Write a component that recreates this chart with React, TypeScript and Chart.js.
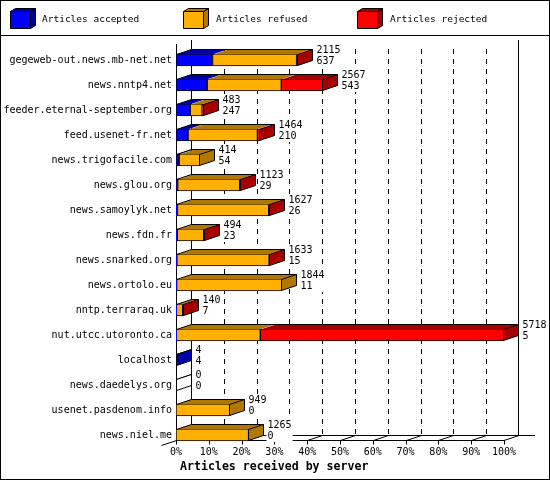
import { useEffect, useRef } from 'react';
import { Chart, registerables } from 'chart.js';

Chart.register(...registerables);

const servers = [
  'gegeweb-out.news.mb-net.net',
  'news.nntp4.net',
  'feeder.eternal-september.org',
  'feed.usenet-fr.net',
  'news.trigofacile.com',
  'news.glou.org',
  'news.samoylyk.net',
  'news.fdn.fr',
  'news.snarked.org',
  'news.ortolo.eu',
  'nntp.terraraq.uk',
  'nut.utcc.utoronto.ca',
  'localhost',
  'news.daedelys.org',
  'usenet.pasdenom.info',
  'news.niel.me',
];
const accepted = [637, 543, 247, 210, 54, 29, 26, 23, 15, 11, 7, 5, 4, 0, 0, 0];
const refused = [1465, 1293, 208, 1209, 360, 1082, 1589, 460, 1608, 1833, 109, 1464, 0, 0, 949, 1265];
const rejected = [13, 731, 28, 45, 0, 12, 12, 11, 10, 0, 24, 4249, 0, 0, 0, 0];
const percentTicks = [0, 10, 20, 30, 40, 50, 60, 70, 80, 90, 100];
const legendLabels = ['Articles accepted', 'Articles refused', 'Articles rejected'];

const FRONT = ['#0000ff', '#ffb000', '#ff0000'];
const DARK = ['#0000a8', '#b07800', '#a80000'];
const DX = 15;
const DY = -5;
const MONO = '"DejaVu Sans Mono", monospace';

const totals = servers.map((_, i) => accepted[i] + refused[i] + rejected[i]);
const maxTotal = Math.max(...totals);
const toPct = (arr: number[]) => arr.map((v) => (v / maxTotal) * 100);

const line = (ctx: CanvasRenderingContext2D, x1: number, y1: number, x2: number, y2: number) => {
  ctx.beginPath();
  ctx.moveTo(x1, y1);
  ctx.lineTo(x2, y2);
  ctx.stroke();
};

const poly = (ctx: CanvasRenderingContext2D, pts: number[][], fill: string | null) => {
  ctx.beginPath();
  ctx.moveTo(pts[0][0], pts[0][1]);
  for (let i = 1; i < pts.length; i++) ctx.lineTo(pts[i][0], pts[i][1]);
  ctx.closePath();
  if (fill) {
    ctx.fillStyle = fill;
    ctx.fill();
  }
  ctx.stroke();
};

const depthPlugin = {
  id: 'depth3d',
  beforeDatasetsDraw(chart: any) {
    const { ctx, chartArea, scales } = chart;
    const xs = scales.x;
    const ys = scales.y;
    const last = chart.getDatasetMeta(0).data[servers.length - 1];
    const front = Math.round(ys.getPixelForValue(servers.length - 1) + last.height / 2) - 0.5;
    const back = front + DY;
    const left = Math.round(chartArea.left) + 0.5;
    const right = Math.round(xs.getPixelForValue(100));
    ctx.save();
    ctx.strokeStyle = '#000';
    ctx.lineWidth = 1;
    // back wall & floor
    line(ctx, left + DX, 40, left + DX, back);
    line(ctx, right + DX - 0.5, 40, right + DX - 0.5, back);
    line(ctx, left + DX, back, 535, back);
    line(ctx, left, 44, left, front);
    line(ctx, left - DX, front - DY, left + DX, back);
    line(ctx, left, front, right, front);
    line(ctx, right, front, right + DX, back);
    ctx.setLineDash([5, 5]);
    percentTicks.slice(1, -1).forEach((t) => {
      const px = Math.round(xs.getPixelForValue(t)) + 0.5;
      line(ctx, px + DX, 49, px + DX, back);
    });
    ctx.setLineDash([]);
    percentTicks.forEach((t) => {
      const px = Math.round(xs.getPixelForValue(t)) + 0.5;
      if (t > 0 && t < 100) line(ctx, px, front, px + DX, back);
      line(ctx, px, front, px, front + 4);
    });
    ctx.fillStyle = '#000';
    ctx.font = `10px ${MONO}`;
    ctx.textAlign = 'center';
    ctx.textBaseline = 'middle';
    percentTicks.forEach((t) => {
      ctx.fillText(`${t}%`, xs.getPixelForValue(t), front + 11.5);
    });
    ctx.font = `bold 11.6px ${MONO}`;
    ctx.textAlign = 'left';
    ctx.fillText('Articles received by server', 180, 467);
    ctx.restore();
  },
  afterDatasetsDraw(chart: any) {
    const { ctx } = chart;
    const metas = [0, 1, 2].map((d) => chart.getDatasetMeta(d));
    const values = [accepted, refused, rejected];
    ctx.save();
    ctx.strokeStyle = '#000';
    ctx.lineWidth = 1;
    servers.forEach((_, i) => {
      const els = metas.map((m) => m.data[i]);
      const T = Math.round(els[0].y - els[0].height / 2) + 0.5;
      const B = Math.round(els[0].y + els[0].height / 2) - 0.5;
      const L = Math.round(els[0].base) + 0.5;
      let R = L;
      let sideColor = '#ffffff';
      els.forEach((el: any, k: number) => {
        if (values[k][i] <= 0) return;
        const s = Math.round(el.base) + 0.5;
        const e = Math.max(s, Math.round(el.x) - 0.5);
        ctx.fillStyle = DARK[k];
        ctx.beginPath();
        ctx.moveTo(s, T);
        ctx.lineTo(e, T);
        ctx.lineTo(e + DX, T + DY);
        ctx.lineTo(s + DX, T + DY);
        ctx.closePath();
        ctx.fill();
        if (e - s < 1) {
          ctx.fillStyle = FRONT[k];
          ctx.fillRect(s - 0.5, T, 1, B - T);
        }
        R = e;
        sideColor = DARK[k];
      });
      // outline of top face
      ctx.beginPath();
      ctx.moveTo(L, T);
      ctx.lineTo(L + DX, T + DY);
      ctx.lineTo(R + DX, T + DY);
      ctx.stroke();
      poly(ctx, [[R, T], [R + DX, T + DY], [R + DX, B + DY], [R, B]], sideColor);
      // value labels on an opaque white box
      ctx.font = `10px ${MONO}`;
      const cy = (T + B) / 2;
      const tx = R + DX + 4;
      const a = String(totals[i]);
      const b = String(accepted[i]);
      const w = Math.max(ctx.measureText(a).width, ctx.measureText(b).width);
      ctx.fillStyle = '#fff';
      ctx.fillRect(tx - 1, cy - 16, w + 2, 23);
      ctx.fillStyle = '#000';
      ctx.textAlign = 'left';
      ctx.textBaseline = 'middle';
      ctx.fillText(a, tx, cy - 10);
      ctx.fillText(b, tx, cy + 1);
    });
    ctx.restore();
  },
  afterDraw(chart: any) {
    const { ctx, width, height } = chart;
    ctx.save();
    ctx.strokeStyle = '#000';
    ctx.lineWidth = 1;
    ctx.strokeRect(0.5, 0.5, width - 1, height - 1);
    line(ctx, 0, 35.5, width, 35.5);
    const boxX = [10, 183, 357];
    const textX = [42, 216, 390];
    legendLabels.forEach((label, k) => {
      const x = boxX[k] + 0.5;
      const y = 11.5;
      const w = 20;
      const h = 17;
      poly(ctx, [[x + w, y], [x + w + 5, y - 3], [x + w + 5, y + h - 3], [x + w, y + h]], DARK[k]);
      poly(ctx, [[x, y], [x + 5, y - 3], [x + w + 5, y - 3], [x + w, y]], DARK[k]);
      poly(ctx, [[x, y], [x + w, y], [x + w, y + h], [x, y + h]], FRONT[k]);
      ctx.fillStyle = '#000';
      ctx.font = `9.5px ${MONO}`;
      ctx.textAlign = 'left';
      ctx.textBaseline = 'middle';
      ctx.fillText(label, textX[k], 20);
    });
    ctx.restore();
  },
};

export default function App() {
  const canvasRef = useRef<HTMLCanvasElement>(null);
  const chartRef = useRef<Chart | null>(null);

  useEffect(() => {
    document.body.style.margin = '0';
    if (chartRef.current) {
      chartRef.current.destroy();
      chartRef.current = null;
    }
    const ctx = canvasRef.current?.getContext('2d');
    if (!ctx) return;

    chartRef.current = new Chart(ctx, {
      type: 'bar',
      data: {
        labels: servers,
        datasets: [accepted, refused, rejected].map((arr, k) => ({
          label: legendLabels[k],
          data: toPct(arr),
          backgroundColor: FRONT[k],
          borderColor: '#000',
          borderWidth: 1,
          borderSkipped: false,
          barThickness: 12,
        })),
      },
      options: {
        indexAxis: 'y',
        responsive: false,
        animation: false,
        devicePixelRatio: 1,
        layout: { padding: { top: 47.5, bottom: 32.5, right: 46, left: 0 } },
        plugins: {
          legend: { display: false },
          tooltip: { enabled: false },
        },
        scales: {
          x: { display: false, stacked: true, min: 0, max: 100 },
          y: {
            stacked: true,
            grid: { display: false, drawTicks: false },
            border: { display: false },
            ticks: {
              autoSkip: false,
              padding: 4,
              color: '#000',
              font: { family: MONO, size: 10 },
            },
            afterFit: (scale: any) => {
              scale.width = 176;
            },
          },
        },
      },
      plugins: [depthPlugin],
    } as any);

    return () => {
      if (chartRef.current) {
        chartRef.current.destroy();
        chartRef.current = null;
      }
    };
  }, []);

  return (
    <div style={{ width: 550, height: 480, background: '#fff' }}>
      <canvas ref={canvasRef} width={550} height={480} style={{ display: 'block' }}></canvas>
    </div>
  );
}
